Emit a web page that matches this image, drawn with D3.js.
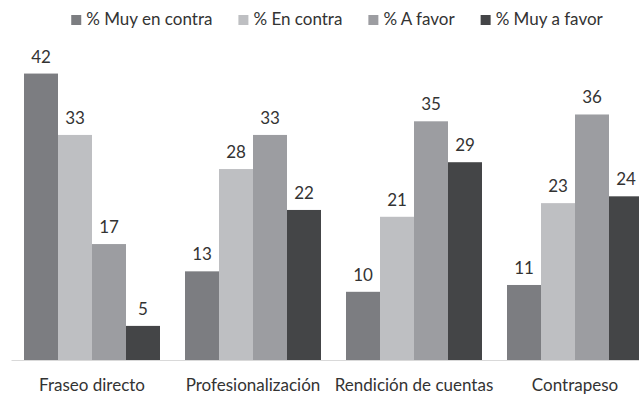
<!DOCTYPE html>
<html>
<head>
<meta charset="utf-8">
<script src="https://cdn.jsdelivr.net/npm/d3@7"></script>
<style>
  html, body { margin: 0; padding: 0; background: #fff; }
  svg { display: block; }
  text { font-family: Lato, "Open Sans", sans-serif; fill: #333; }
</style>
</head>
<body>
<svg id="chart" width="639" height="394"></svg>
<script>
// Survey responses by proposal (percent of respondents)
const categories = ["Fraseo directo", "Profesionalización", "Rendición de cuentas", "Contrapeso"];
const seriesNames = ["% Muy en contra", "% En contra", "% A favor", "% Muy a favor"];
const muyEnContra = [42, 13, 10, 11];
const enContra    = [33, 28, 21, 23];
const aFavor      = [17, 33, 35, 36];
const muyAFavor   = [5, 22, 29, 24];
const seriesValues = [muyEnContra, enContra, aFavor, muyAFavor];
const colors = ["#7c7d81", "#bebfc2", "#9c9da1", "#444547"];

const width = 639, height = 394;
const svg = d3.select("#chart");

const baseY = 360;
const x0 = d3.scaleBand()
  .domain(categories)
  .range([11.5, 655.5])
  .paddingInner(25 / 161)
  .paddingOuter(25 / 322);

const x1 = d3.scaleBand()
  .domain(seriesNames)
  .range([0, x0.bandwidth()]);

const y = d3.scaleLinear()
  .domain([0, 45])
  .range([baseY, baseY - 45 * 6.82]);

const color = d3.scaleOrdinal().domain(seriesNames).range(colors);

const rows = categories.map((c, i) => ({
  category: c,
  values: seriesNames.map((s, j) => ({ series: s, value: seriesValues[j][i] }))
}));

// Grouped bars
const groups = svg.append("g")
  .selectAll("g")
  .data(rows)
  .join("g")
  .attr("transform", d => `translate(${x0(d.category)},0)`);

groups.selectAll("rect")
  .data(d => d.values)
  .join("rect")
  .attr("x", d => x1(d.series))
  .attr("y", d => y(d.value))
  .attr("width", x1.bandwidth())
  .attr("height", d => y(0) - y(d.value))
  .attr("fill", d => color(d.series));

// Value labels above each bar
groups.selectAll("text")
  .data(d => d.values)
  .join("text")
  .attr("x", d => x1(d.series) + x1.bandwidth() / 2)
  .attr("y", d => y(d.value) - 11)
  .attr("text-anchor", "middle")
  .attr("font-size", 17)
  .text(d => d.value);

// Category axis
const xAxis = svg.append("g")
  .attr("transform", `translate(0,${baseY})`)
  .call(d3.axisBottom(x0).tickSize(0).tickPadding(19));
xAxis.select(".domain")
  .attr("d", `M${x0.range()[0]},0.5H${width}`)
  .attr("stroke", "#d9d9d9");
xAxis.selectAll(".tick text")
  .attr("font-size", 17)
  .attr("font-family", "Lato, 'Open Sans', sans-serif")
  .attr("fill", "#333");

// Legend
const legend = svg.append("g");
const items = legend.selectAll("g")
  .data(seriesNames)
  .join("g");
items.append("rect")
  .attr("width", 10)
  .attr("height", 10)
  .attr("y", 15)
  .attr("fill", d => color(d));
items.append("text")
  .attr("x", 15)
  .attr("y", 25)
  .attr("font-size", 17)
  .text(d => d);

let cursor = 0;
items.each(function () {
  const g = d3.select(this);
  g.attr("transform", `translate(${cursor},0)`);
  cursor += 15 + g.select("text").node().getComputedTextLength() + 26;
});
const legendWidth = cursor - 26;
legend.attr("transform", `translate(${337 - legendWidth / 2},0)`);
</script>
</body>
</html>
